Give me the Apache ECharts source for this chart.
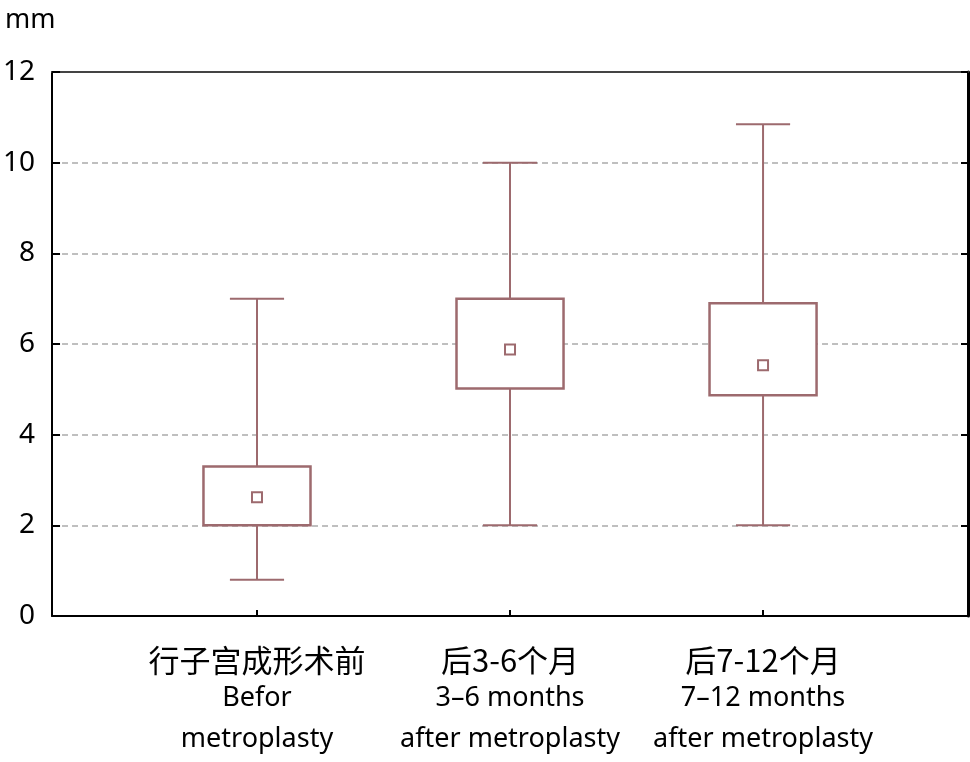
<!DOCTYPE html>
<html><head><meta charset="utf-8">
<script src="https://cdn.jsdelivr.net/npm/echarts@6/dist/echarts.min.js"></script>
<style>html,body{margin:0;padding:0;background:#fff}#c{width:970px;height:762px}</style>
</head><body><div id="c"></div>
<script>
const categoriesCn = ['行子宫成形术前', '后3-6个月', '后7-12个月'];
const categoriesEn1 = ['Befor', '3–6 months', '7–12 months'];
const categoriesEn2 = ['metroplasty', 'after metroplasty', 'after metroplasty'];
const positions = [1, 2, 3];
const whiskerLow = [0.8, 2, 2];
const q1 = [2, 5.02, 4.87];
const q3 = [3.3, 7, 6.9];
const whiskerHigh = [7, 10, 10.85];
const means = [2.62, 5.88, 5.53];
const yTicks = [0, 2, 4, 6, 8, 10, 12];

const boxColor = '#9d6a6e';
const data = positions.map((p, i) => [p, whiskerLow[i], q1[i], q3[i], whiskerHigh[i], means[i]]);

const chart = echarts.init(document.getElementById('c'));
const axisFont = '"Noto Sans", sans-serif';
chart.setOption({
  animation: false,
  title: { text: 'mm', left: 0, top: 2, textStyle: { fontSize: 27, fontWeight: 'normal', color: '#000', fontFamily: axisFont } },
  grid: { left: 52, right: 2, top: 72, bottom: 146 },
  xAxis: [{
    type: 'value', min: 0.19, max: 3.81, position: 'bottom',
    axisLine: { show: true, onZero: false, lineStyle: { color: '#000', width: 2 } },
    axisTick: { show: true, inside: true, length: 6, customValues: positions, lineStyle: { color: '#000', width: 2 } },
    splitLine: { show: false },
    axisLabel: {
      customValues: positions, margin: 26,
      formatter: v => { const i = Math.round(v) - 1; return '{cn|' + categoriesCn[i] + '}\n{en|' + categoriesEn1[i] + '}\n{en|' + categoriesEn2[i] + '}'; },
      rich: {
        cn: { fontSize: 31, lineHeight: 36, color: '#000', fontFamily: '"Noto Sans CJK SC", sans-serif' },
        en: { fontSize: 27, lineHeight: 41, color: '#000', fontFamily: axisFont }
      }
    }
  }, {
    type: 'value', min: 0, max: 1, position: 'top',
    axisLine: { show: true, onZero: false, lineStyle: { color: '#444', width: 2 } },
    axisTick: { show: false }, axisLabel: { show: false }, splitLine: { show: false }
  }],
  yAxis: [{
    type: 'value', min: 0, max: 12, interval: 2,
    axisLine: { show: true, onZero: false, lineStyle: { color: '#000', width: 2 } },
    axisTick: { show: true, inside: true, length: 8, lineStyle: { color: '#000', width: 2 } },
    axisLabel: { margin: 17, fontSize: 28, color: '#000', fontFamily: axisFont, customValues: yTicks },
    splitLine: { show: true, lineStyle: { color: '#aaa', width: 1.5, type: [6, 4] } }
  }, {
    type: 'value', min: 0, max: 12, interval: 2, position: 'right',
    axisLine: { show: true, onZero: false, lineStyle: { color: '#000', width: 3 } },
    axisTick: { show: true, inside: true, length: 7, lineStyle: { color: '#000', width: 2 } },
    axisLabel: { show: false }, splitLine: { show: false }
  }],
  series: [{
    type: 'custom',
    xAxisIndex: 0, yAxisIndex: 0,
    data: data,
    renderItem: function (params, api) {
      const x = api.value(0);
      const lo = api.value(1), b = api.value(2), t = api.value(3), hi = api.value(4), m = api.value(5);
      const hw = 0.2115, cw = 0.107;
      const tl = api.coord([x - hw, t]);
      const br = api.coord([x + hw, b]);
      const cTop = api.coord([x, hi]);
      const cQ3 = api.coord([x, t]);
      const cQ1 = api.coord([x, b]);
      const cLo = api.coord([x, lo]);
      const capL1 = api.coord([x - cw, hi]), capR1 = api.coord([x + cw, hi]);
      const capL2 = api.coord([x - cw, lo]), capR2 = api.coord([x + cw, lo]);
      const cm = api.coord([x, m]);
      const st = { stroke: boxColor, lineWidth: 2, fill: null };
      return {
        type: 'group',
        children: [
          { type: 'line', shape: { x1: cTop[0], y1: cTop[1], x2: cQ3[0], y2: cQ3[1] }, style: st },
          { type: 'line', shape: { x1: cQ1[0], y1: cQ1[1], x2: cLo[0], y2: cLo[1] }, style: st },
          { type: 'line', shape: { x1: capL1[0], y1: capL1[1], x2: capR1[0], y2: capR1[1] }, style: st },
          { type: 'line', shape: { x1: capL2[0], y1: capL2[1], x2: capR2[0], y2: capR2[1] }, style: st },
          { type: 'rect', shape: { x: tl[0], y: tl[1], width: br[0] - tl[0], height: br[1] - tl[1] }, style: { stroke: boxColor, lineWidth: 2.5, fill: '#fff' } },
          { type: 'rect', shape: { x: cm[0] - 5, y: cm[1] - 5, width: 10, height: 10 }, style: { stroke: boxColor, lineWidth: 2, fill: '#fff' } }
        ]
      };
    }
  }]
});
</script></body></html>
